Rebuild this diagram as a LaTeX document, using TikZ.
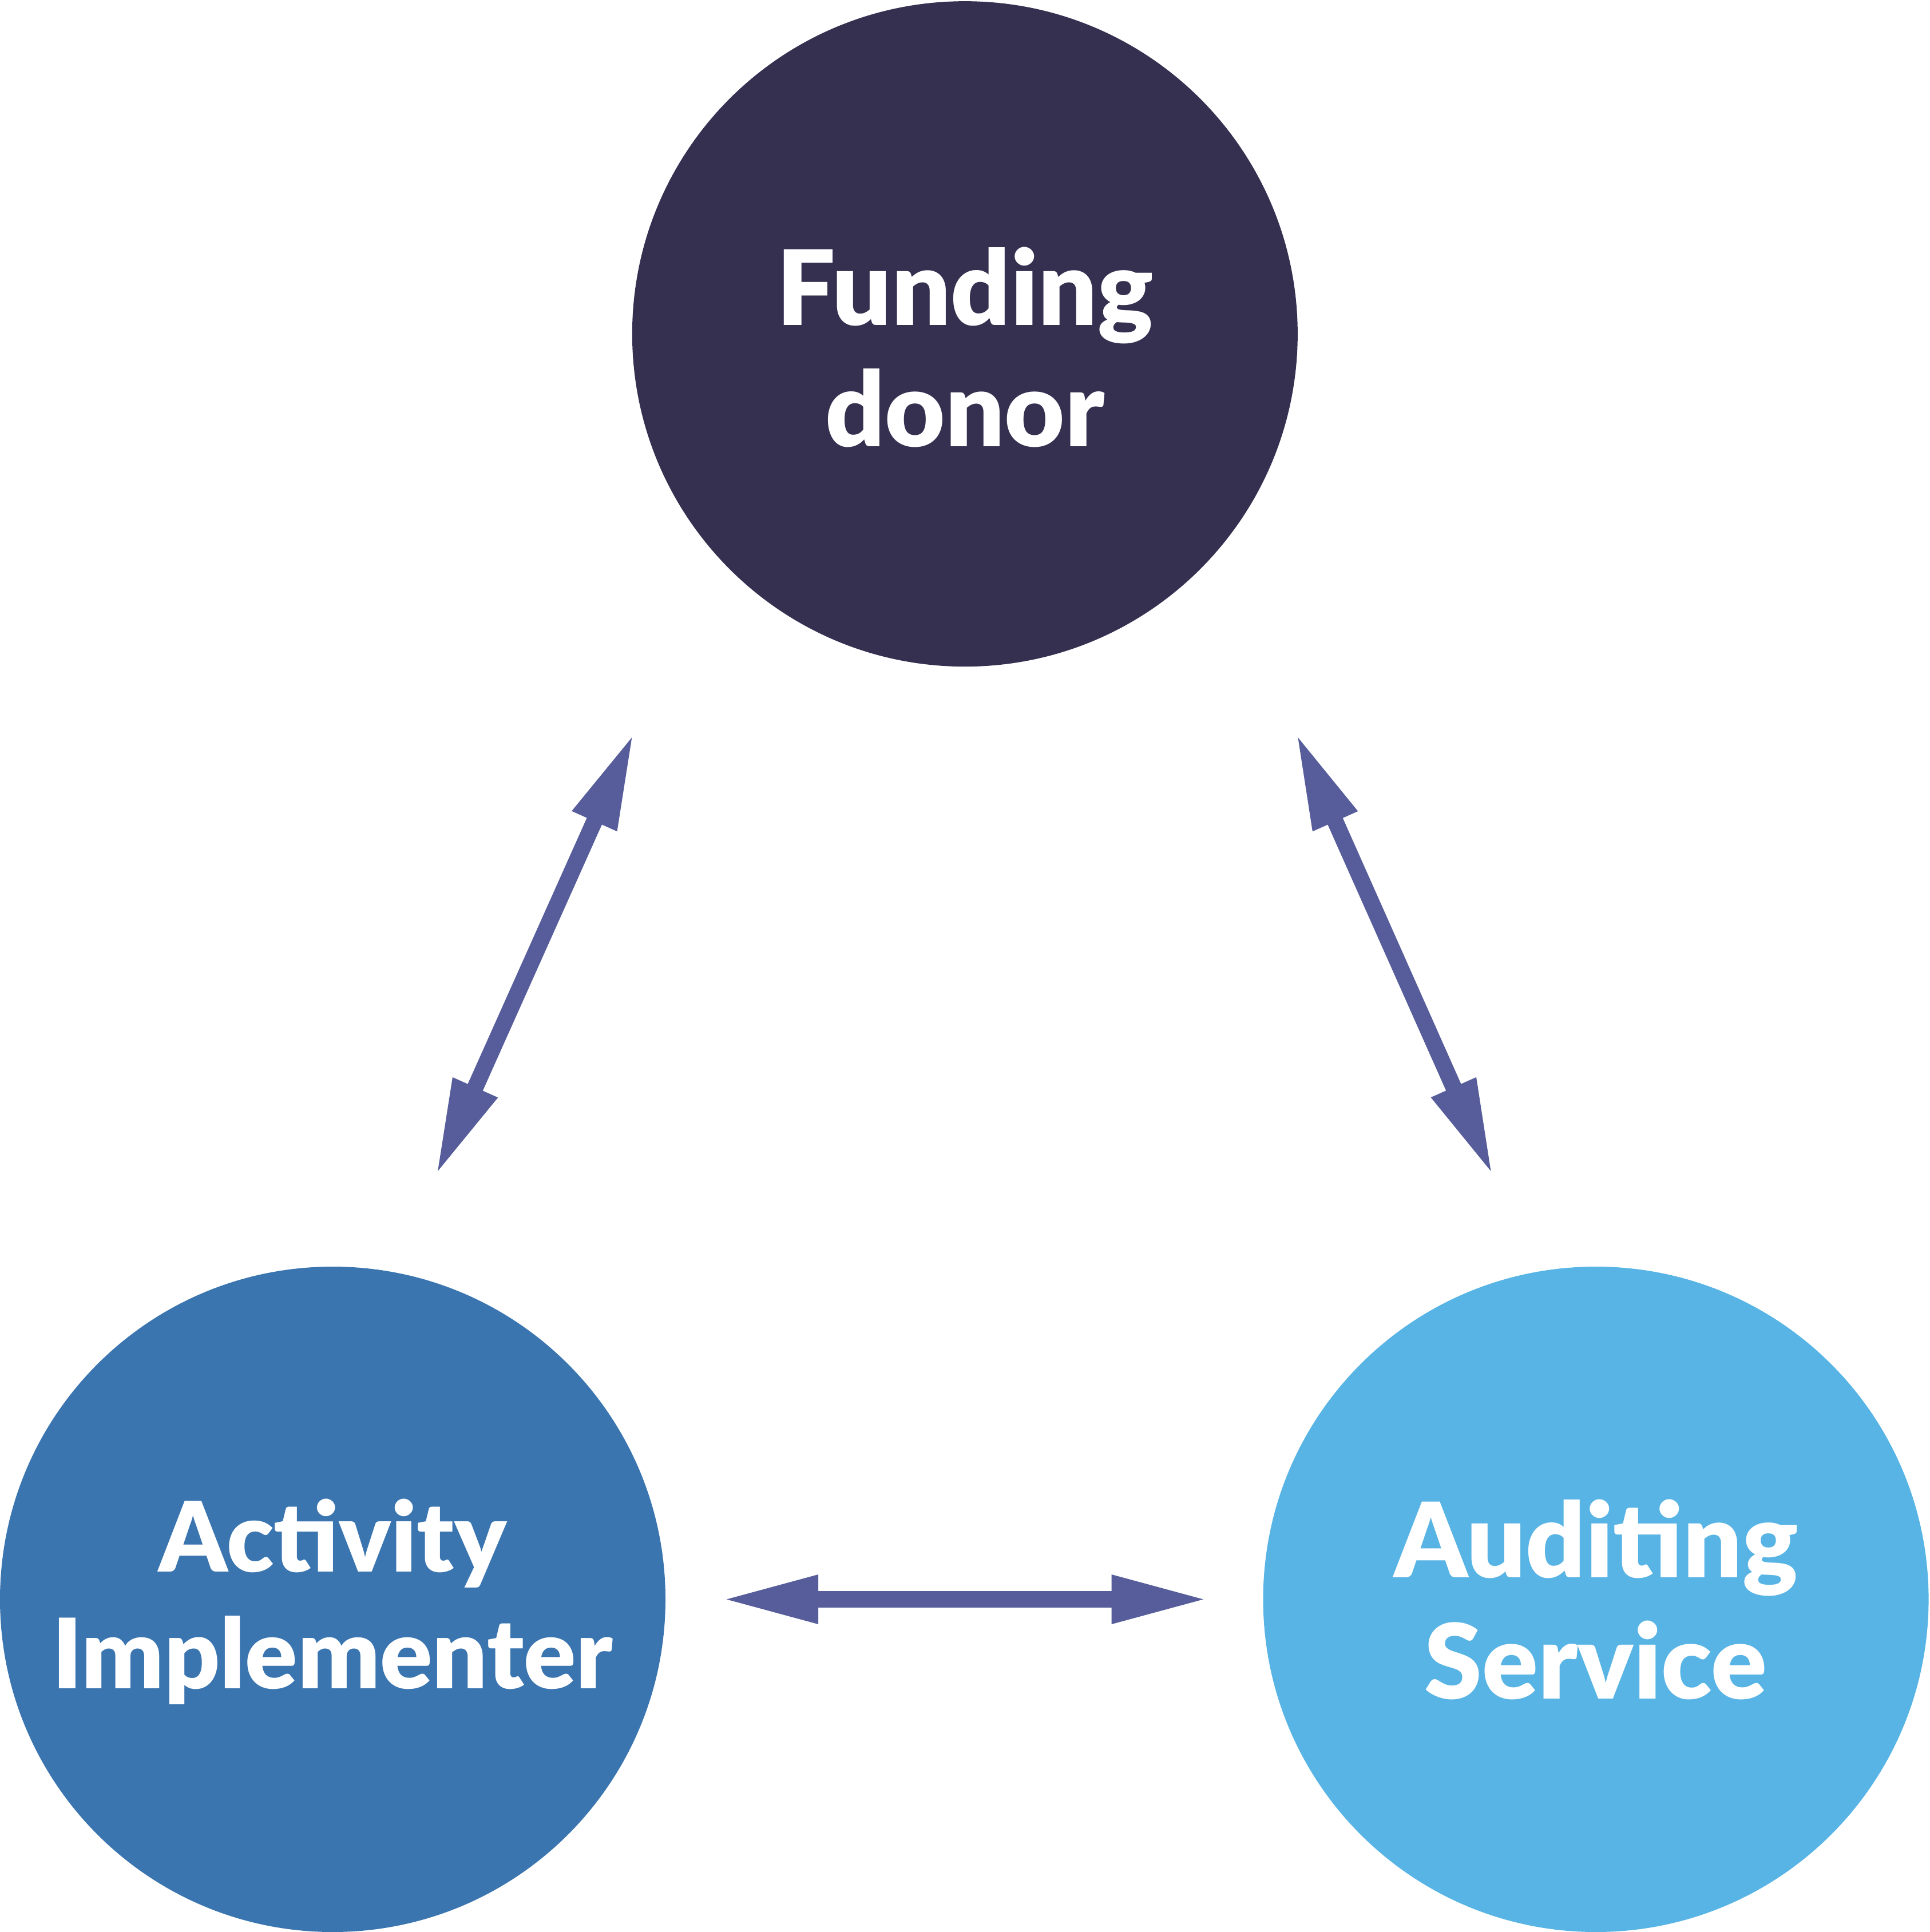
\documentclass[tikz,border=0pt]{standalone}
\usepackage{fontspec}
\setmainfont{Lato}[BoldFont={* Black}]
\usepackage{xcolor}
\usepackage{tikz}
\usetikzlibrary{arrows.meta}

\definecolor{donorcol}{HTML}{352F50}
\definecolor{implcol}{HTML}{3A75B0}
\definecolor{auditcol}{HTML}{58B4E4}
\definecolor{linkcol}{HTML}{565D9A}

\begin{document}
\begin{tikzpicture}[
  bubble/.style={circle, minimum size=5.4cm, inner sep=0pt},
  txt/.style={text=white, align=center, inner sep=0pt,
    font=\fontsize{24}{28}\selectfont\bfseries},
  link/.style={line width=3.8pt, linkcol,
    {Triangle[length=7.9mm,width=3.6mm]}-{Triangle[length=7.9mm,width=3.6mm]}}]

\useasboundingbox (0,0) rectangle (15.66,-15.68);

\node[bubble, fill=donorcol] (donor) at (7.83,-2.71) {};
\node[bubble, fill=implcol] (impl) at (2.70,-12.98) {};
\node[bubble, fill=auditcol] (audit) at (12.95,-12.98) {};

\node[txt] (donorTxt) at ([yshift=-1.1mm]donor.center) {Funding\\donor};
\node[txt, font=\fontsize{22.4}{27}\selectfont\bfseries] (implTxt)
  at ([yshift=-0.2mm]impl.center) {Activity\\Implementer};
\node[txt] (auditTxt) at (audit.center) {Auditing\\Service};

% arrow ends
\coordinate (donorL) at (5.146,-5.944);
\coordinate (implT) at (3.534,-9.546);
\coordinate (donorR) at (10.514,-5.944);
\coordinate (auditT) at (12.116,-9.546);
\coordinate (implR) at (5.85,-12.98);
\coordinate (auditL) at (9.81,-12.98);

\draw[link] (donorL) -- (implT);
\draw[link] (donorR) -- (auditT);
\draw[link] (implR) -- (auditL);

\end{tikzpicture}
\end{document}
